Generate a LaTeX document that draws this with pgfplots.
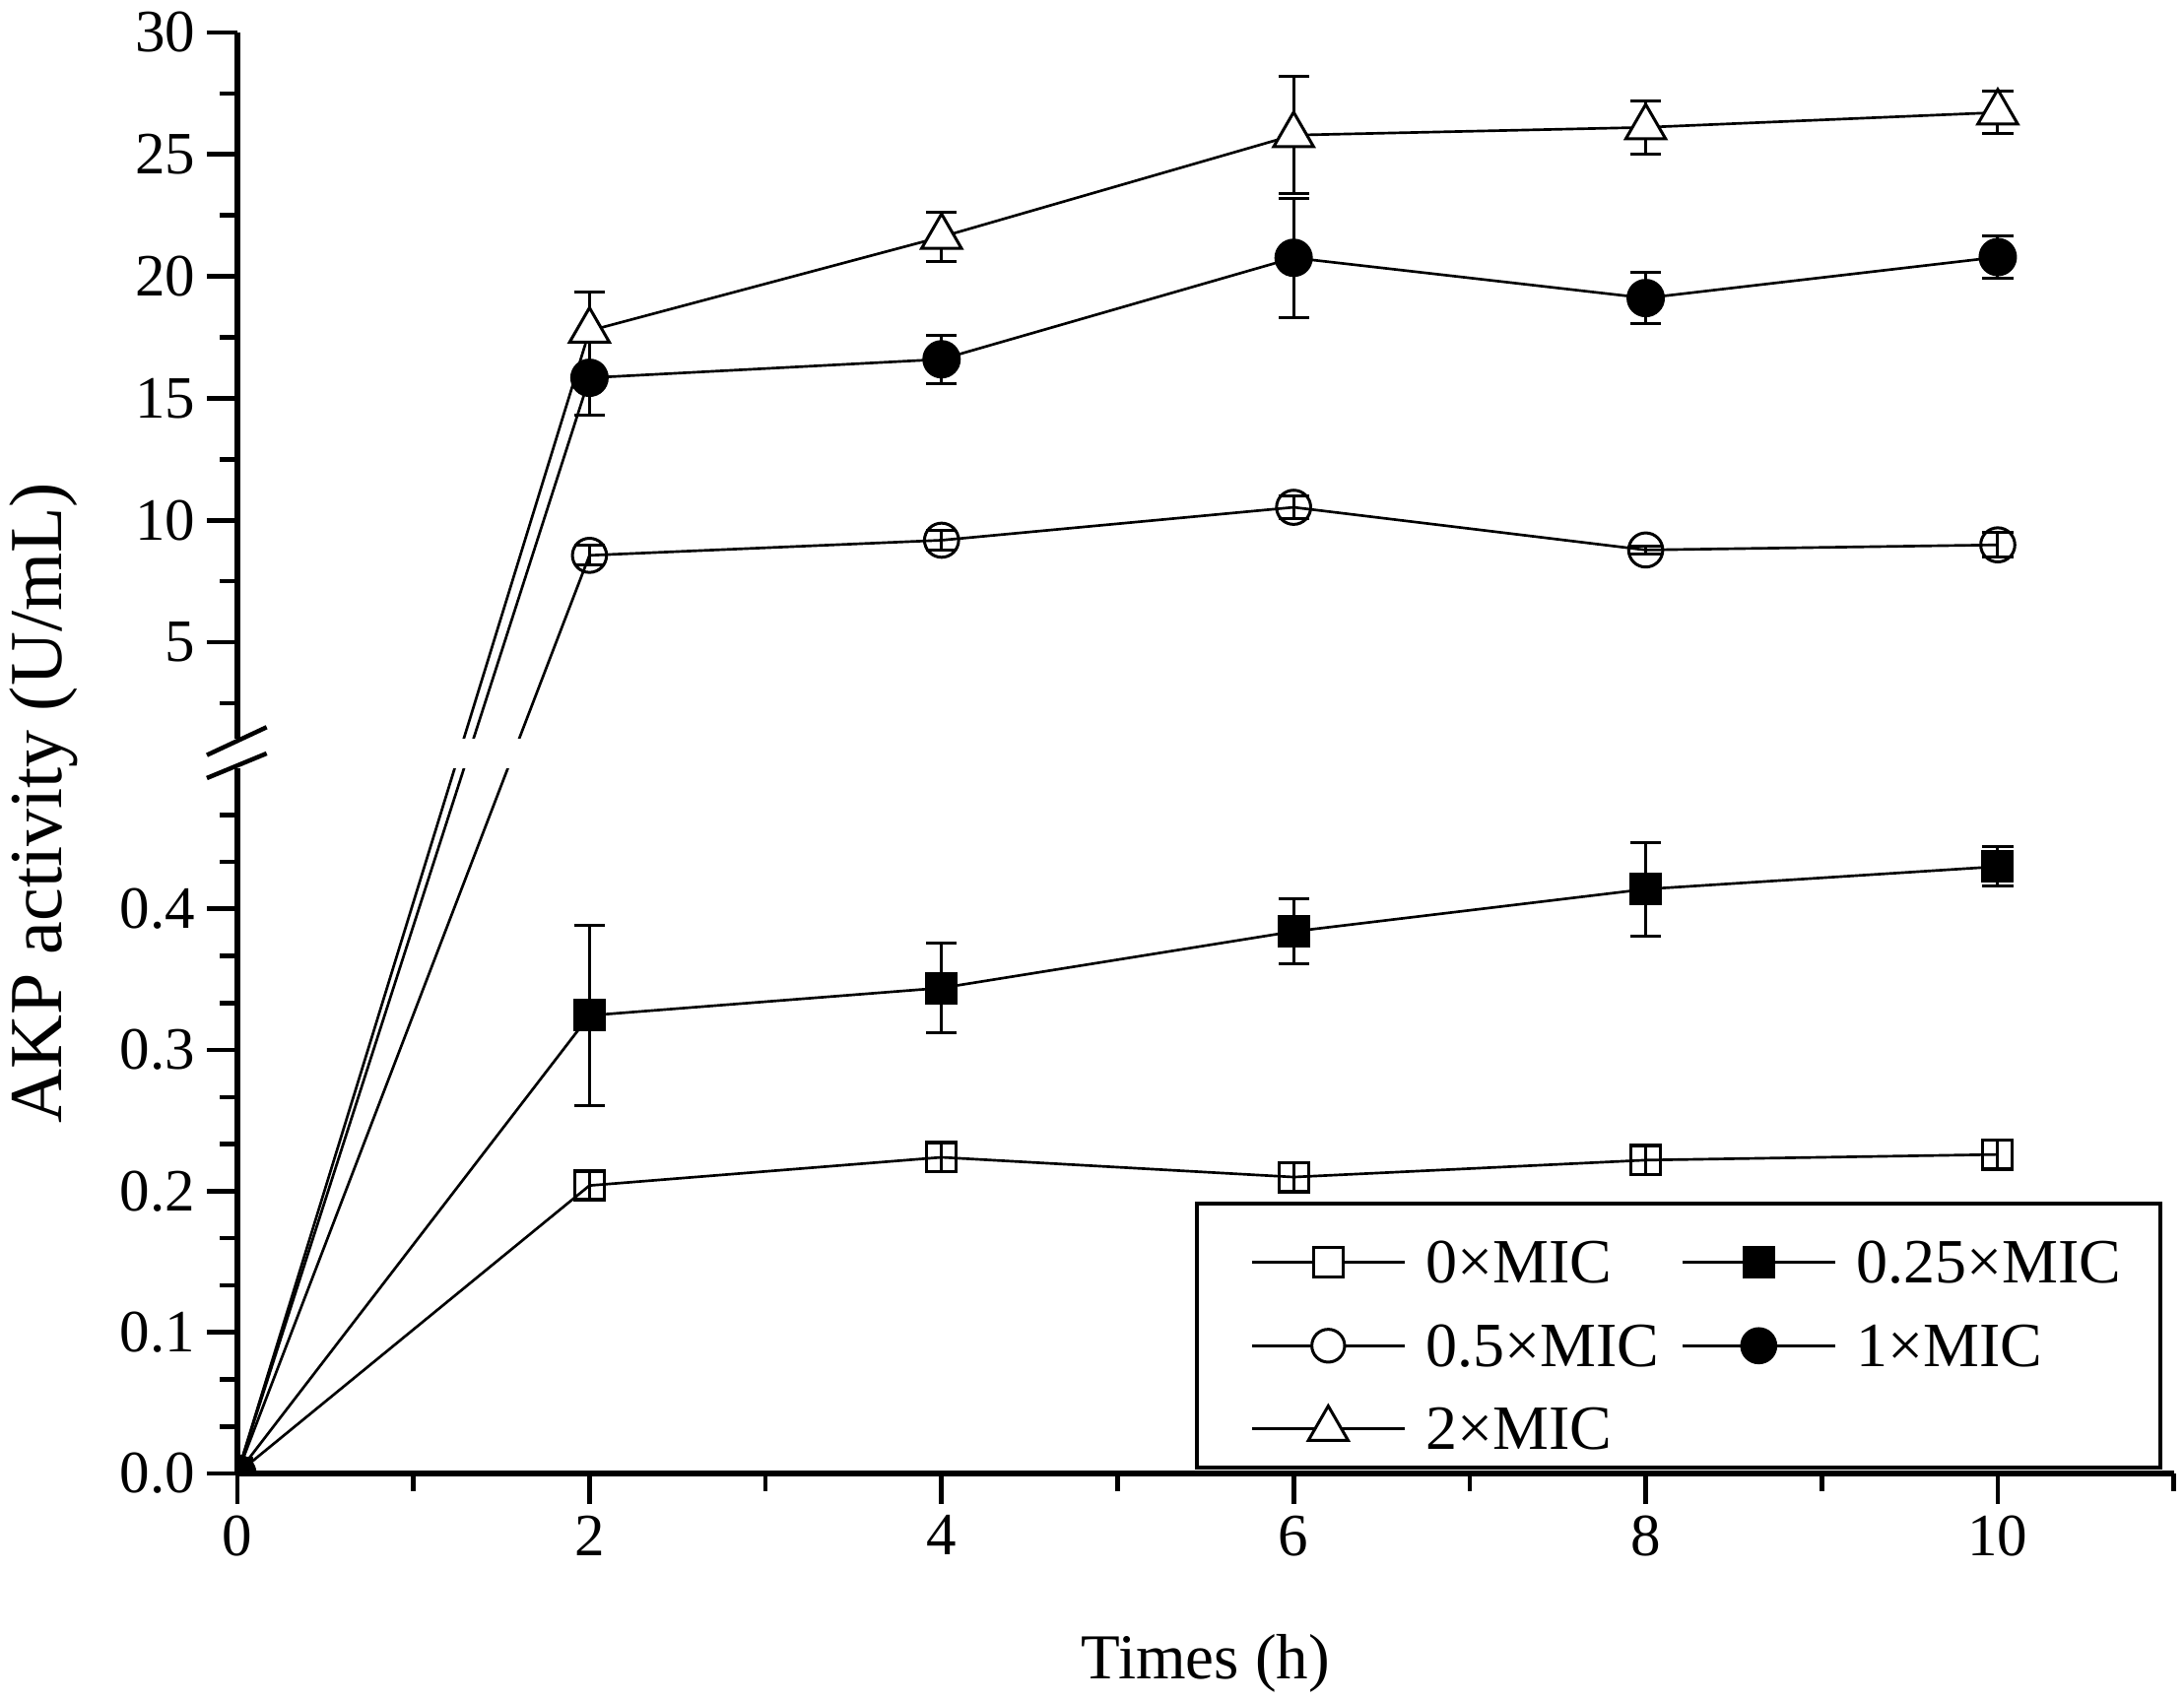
\documentclass[border=0pt]{standalone}
\usepackage{fontspec}
\setmainfont{Liberation Serif}
\usepackage{pgfplots}
\usepackage{pgfplotstable}
\pgfplotsset{compat=1.18}

% lower segment (0 - 0.5 U/mL)
\pgfplotstableread{
x y e
0 0 0
2 0.204 0.010
4 0.224 0.010
6 0.210 0.010
8 0.222 0.010
10 0.226 0.010
}\tzero
\pgfplotstableread{
x y e
0 0 0
2 0.3245 0.064
4 0.344 0.032
6 0.384 0.023
8 0.414 0.033
10 0.430 0.014
}\tquarter
% upper segment (5 - 30 U/mL)
\pgfplotstableread{
x y e
0 0 0
2 8.56 0.40
4 9.18 0.40
6 10.53 0.45
8 8.78 0.15
10 8.99 0.50
}\thalf
\pgfplotstableread{
x y e
0 0 0
2 15.84 1.55
4 16.60 1.00
6 20.76 2.44
8 19.11 1.06
10 20.79 0.87
}\tone
\pgfplotstableread{
x y e
0 0 0
2 17.77 1.60
4 21.62 1.00
6 25.79 2.40
8 26.11 1.10
10 26.72 0.87
}\ttwo

\begin{document}
\begin{tikzpicture}
\path[use as bounding box] (-72.3pt,-69.3pt) rectangle (592.8pt,448.8pt);
\begin{axis}[
  at={(0pt,0pt)}, anchor=south west,
  scale only axis, width=589.7pt, height=438.9pt,
  xmin=0, xmax=11, ymin=0, ymax=1.02095,
  clip marker paths=true,
  axis x line*=bottom, axis y line*=left,
  axis line style={line width=1.8pt},
  tick align=outside,
  major tick length=9.3pt, minor tick length=5.4pt,
  tick style={line width=1.4pt, black},
  xtick={0,2,4,6,8,10}, xticklabels={0,2,4,6,8,10},
  minor xtick={1,3,5,7,9,11},
  ytick={0,0.1,0.2,0.3,0.4,0.58898,0.67537,0.76177,0.84816,0.93456,1.02095},
  yticklabels={0.0,0.1,0.2,0.3,0.4,5,10,15,20,25,30},
  minor ytick={0.03333,0.06667,0.13333,0.16667,0.23333,0.26667,0.33333,0.36667,0.43333,0.46667,0.54578,0.63217,0.71857,0.80496,0.89136,0.97775},
  tick label style={font=\fontsize{18.3pt}{18.3pt}\selectfont},
  xlabel={Times (h)}, ylabel={AKP activity (U/mL)},
  xlabel style={at={(axis description cs:0.5,-0.14286)}, anchor=base, font=\fontsize{19.5pt}{19.5pt}\selectfont},
  ylabel style={at={(axis description cs:-0.09105,0.4655)}, anchor=base, font=\fontsize{22.8pt}{22.8pt}\selectfont},
  legend columns=2,
  legend style={at={(axis description cs:0.4944,0.18866)}, anchor=north west,
    draw=black, line width=1.2pt, fill=white, inner xsep=12pt, inner ysep=3pt,
    font=\fontsize{19.2pt}{19.2pt}\selectfont,
    cells={anchor=base west},
    nodes={inner sep=0pt, text height=21.3pt, text depth=2.4pt},
    row sep=1.65pt, column sep=6pt,
    /tikz/every even column/.append style={column sep=2.3pt}},
  legend image code/.code={\path[draw=none] (0pt,6.35pt) -- (4.8pt,6.35pt);
    \draw[mark repeat=2,mark phase=2,#1] plot coordinates {(4.8pt,6.35pt) (28.05pt,6.35pt) (51.3pt,6.35pt)};},
  error bars/y dir=both, error bars/y explicit,
  error bars/error bar style={line width=0.9pt, black},
  error bars/error mark options={rotate=90, mark size=4.7pt, line width=0.9pt, black},
]
% 0 x MIC
\addplot[forget plot, black, line width=0.8pt, mark=square, mark size=4.5pt,
  mark indices={2,3,4,5,6}, mark options={line width=0.9pt, fill=none}]
  table[x=x, y=y, y error=e] {\tzero};
% 0.25 x MIC
\addplot[forget plot, black, line width=0.8pt, mark=square*, mark size=4.5pt,
  mark options={line width=0.9pt, fill=black}]
  table[x=x, y=y, y error=e] {\tquarter};
% 0.5 x MIC
\addplot[forget plot, black, line width=0.8pt, mark=o, mark size=5.2pt,
  mark indices={2,3,4,5,6}, mark options={line width=0.9pt, fill=none}]
  table[x=x, y expr={ifthenelse(\thisrow{x}==0,0,0.50258+0.017279*\thisrow{y})},
        y error expr={0.017279*\thisrow{e}}] {\thalf};
% 1 x MIC
\addplot[forget plot, black, line width=0.8pt, mark=*, mark size=5.4pt,
  mark options={line width=0.9pt, fill=black}]
  table[x=x, y expr={ifthenelse(\thisrow{x}==0,0,0.50258+0.017279*\thisrow{y})},
        y error expr={0.017279*\thisrow{e}}] {\tone};
% 2 x MIC
\addplot[forget plot, black, line width=0.8pt, mark=triangle*, mark size=7pt,
  mark indices={2,3,4,5,6}, mark options={line width=0.9pt, fill=white}]
  table[x=x, y expr={ifthenelse(\thisrow{x}==0,0,0.50258+0.017279*\thisrow{y})},
        y error expr={0.017279*\thisrow{e}}] {\ttwo};

\addlegendimage{black, line width=0.8pt, mark=square*, mark size=4.5pt, mark options={line width=0.9pt, fill=white}}
\addlegendentry{0×MIC}
\addlegendimage{black, line width=0.8pt, mark=square*, mark size=4.5pt, mark options={line width=0.9pt, fill=black}}
\addlegendentry{0.25×MIC}
\addlegendimage{black, line width=0.8pt, mark=*, mark size=5pt, mark options={line width=0.9pt, fill=white}}
\addlegendentry{0.5×MIC}
\addlegendimage{black, line width=0.8pt, mark=*, mark size=5.2pt, mark options={line width=0.9pt, fill=black}}
\addlegendentry{1×MIC}
\addlegendimage{black, line width=0.8pt, mark=triangle*, mark size=7pt, mark options={line width=0.9pt, fill=white}}
\addlegendentry{2×MIC}

\coordinate (O) at (axis cs:0,0);
\coordinate (BL) at (axis cs:-0.03,0.4997);
\coordinate (BR) at (axis cs:1.8,0.5206);
\end{axis}
% axis break
\fill[white] (BL) rectangle (BR);
\draw[line width=1.35pt] ([shift={(-9.3pt,218.8pt)}]O) -- ([shift={(8.9pt,227.3pt)}]O);
\draw[line width=1.35pt] ([shift={(-9.3pt,211.8pt)}]O) -- ([shift={(8.9pt,219.3pt)}]O);
\end{tikzpicture}
\end{document}
